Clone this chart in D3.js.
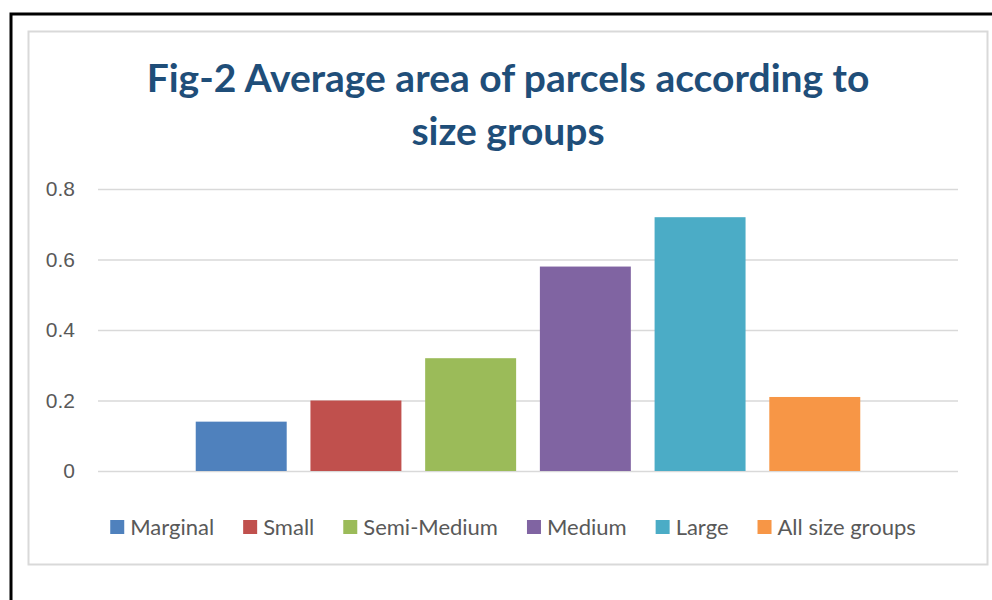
<!DOCTYPE html>
<meta charset="utf-8">
<head>
<style>
body { margin: 0; background: #fff; }
svg { display: block; font-family: "Lato", "Open Sans", sans-serif; }
.grid line { stroke: #d9d9d9; stroke-width: 1.5px; }
.grid text { fill: #595959; font-size: 21px; }
.title { fill: #1f4e79; font-weight: bold; font-size: 39px; }
.legend text { fill: #595959; font-size: 22px; }
</style>
<script src="https://d3js.org/d3.v7.min.js"></script>
</head>
<body>
<div id="chart"></div>
<script>

// data
var groups = ["Marginal", "Small", "Semi-Medium", "Medium", "Large", "All size groups"];
var values = [0.14, 0.20, 0.32, 0.58, 0.72, 0.21];
var colors = ["#4f81bd", "#c0504d", "#9bbb59", "#8064a2", "#4bacc6", "#f79646"];
var tickValues = [0, 0.2, 0.4, 0.6, 0.8];
var tickLabels = ["0", "0.2", "0.4", "0.6", "0.8"];
var titleLines = ["Fig-2 Average area of parcels according to", "size groups"];

var W = 992, H = 600;
var plot = {left: 98, right: 958, top: 189, bottom: 471};

var svg = d3.select("#chart").append("svg")
  .attr("width", W)
  .attr("height", H);

// outer frame (only left/top visible) + chart area border
svg.append("rect")
  .attr("x", 11).attr("y", 14)
  .attr("width", W + 20).attr("height", H + 20)
  .attr("fill", "none").attr("stroke", "#000").attr("stroke-width", 3);
svg.append("rect")
  .attr("x", 28.5).attr("y", 31.5)
  .attr("width", 959).attr("height", 533)
  .attr("fill", "#fff").attr("stroke", "#d9d9d9").attr("stroke-width", 2);

// title
svg.append("g").selectAll("text")
  .data(titleLines)
  .enter().append("text")
    .attr("class", "title")
    .attr("x", 508)
    .attr("y", function(d, i) { return 92 + i * 53; })
    .attr("text-anchor", "middle")
    .text(function(d) { return d; });

var x = d3.scaleBand()
  .domain(groups)
  .range([plot.left, plot.right])
  .paddingInner(0.207)
  .paddingOuter(0.852);

var y = d3.scaleLinear()
  .domain([0, 0.8])
  .range([plot.bottom, plot.top]);

var yAxis = svg.append("g")
  .attr("class", "grid")
  .attr("transform", "translate(" + plot.left + ",0)")
  .call(d3.axisLeft(y)
    .tickValues(tickValues)
    .tickFormat(function(d, i) { return tickLabels[i]; })
    .tickSize(-(plot.right - plot.left))
    .tickPadding(23));
yAxis.select(".domain").remove();

// bars
svg.append("g").selectAll("rect")
  .data(groups)
  .enter().append("rect")
    .attr("x", function(d) { return x(d); })
    .attr("y", function(d, i) { return y(values[i]); })
    .attr("width", x.bandwidth())
    .attr("height", function(d, i) { return y(0) - y(values[i]); })
    .attr("fill", function(d, i) { return colors[i]; });

// legend, laid out from the measured text widths and centred
var legend = svg.append("g").attr("class", "legend");
var items = legend.selectAll("g")
  .data(groups)
  .enter().append("g");
items.append("rect")
  .attr("width", 14).attr("height", 14)
  .attr("y", 520)
  .attr("fill", function(d, i) { return colors[i]; });
items.append("text")
  .attr("x", 20)
  .attr("y", 535)
  .text(function(d) { return d; });

var gap = 29, pos = 0, offsets = [];
items.each(function() {
  offsets.push(pos);
  pos += 20 + d3.select(this).select("text").node().getComputedTextLength() + gap;
});
var total = pos - gap;
var start = 513 - total / 2;
items.attr("transform", function(d, i) { return "translate(" + (start + offsets[i]) + ",0)"; });

</script>
</body>
